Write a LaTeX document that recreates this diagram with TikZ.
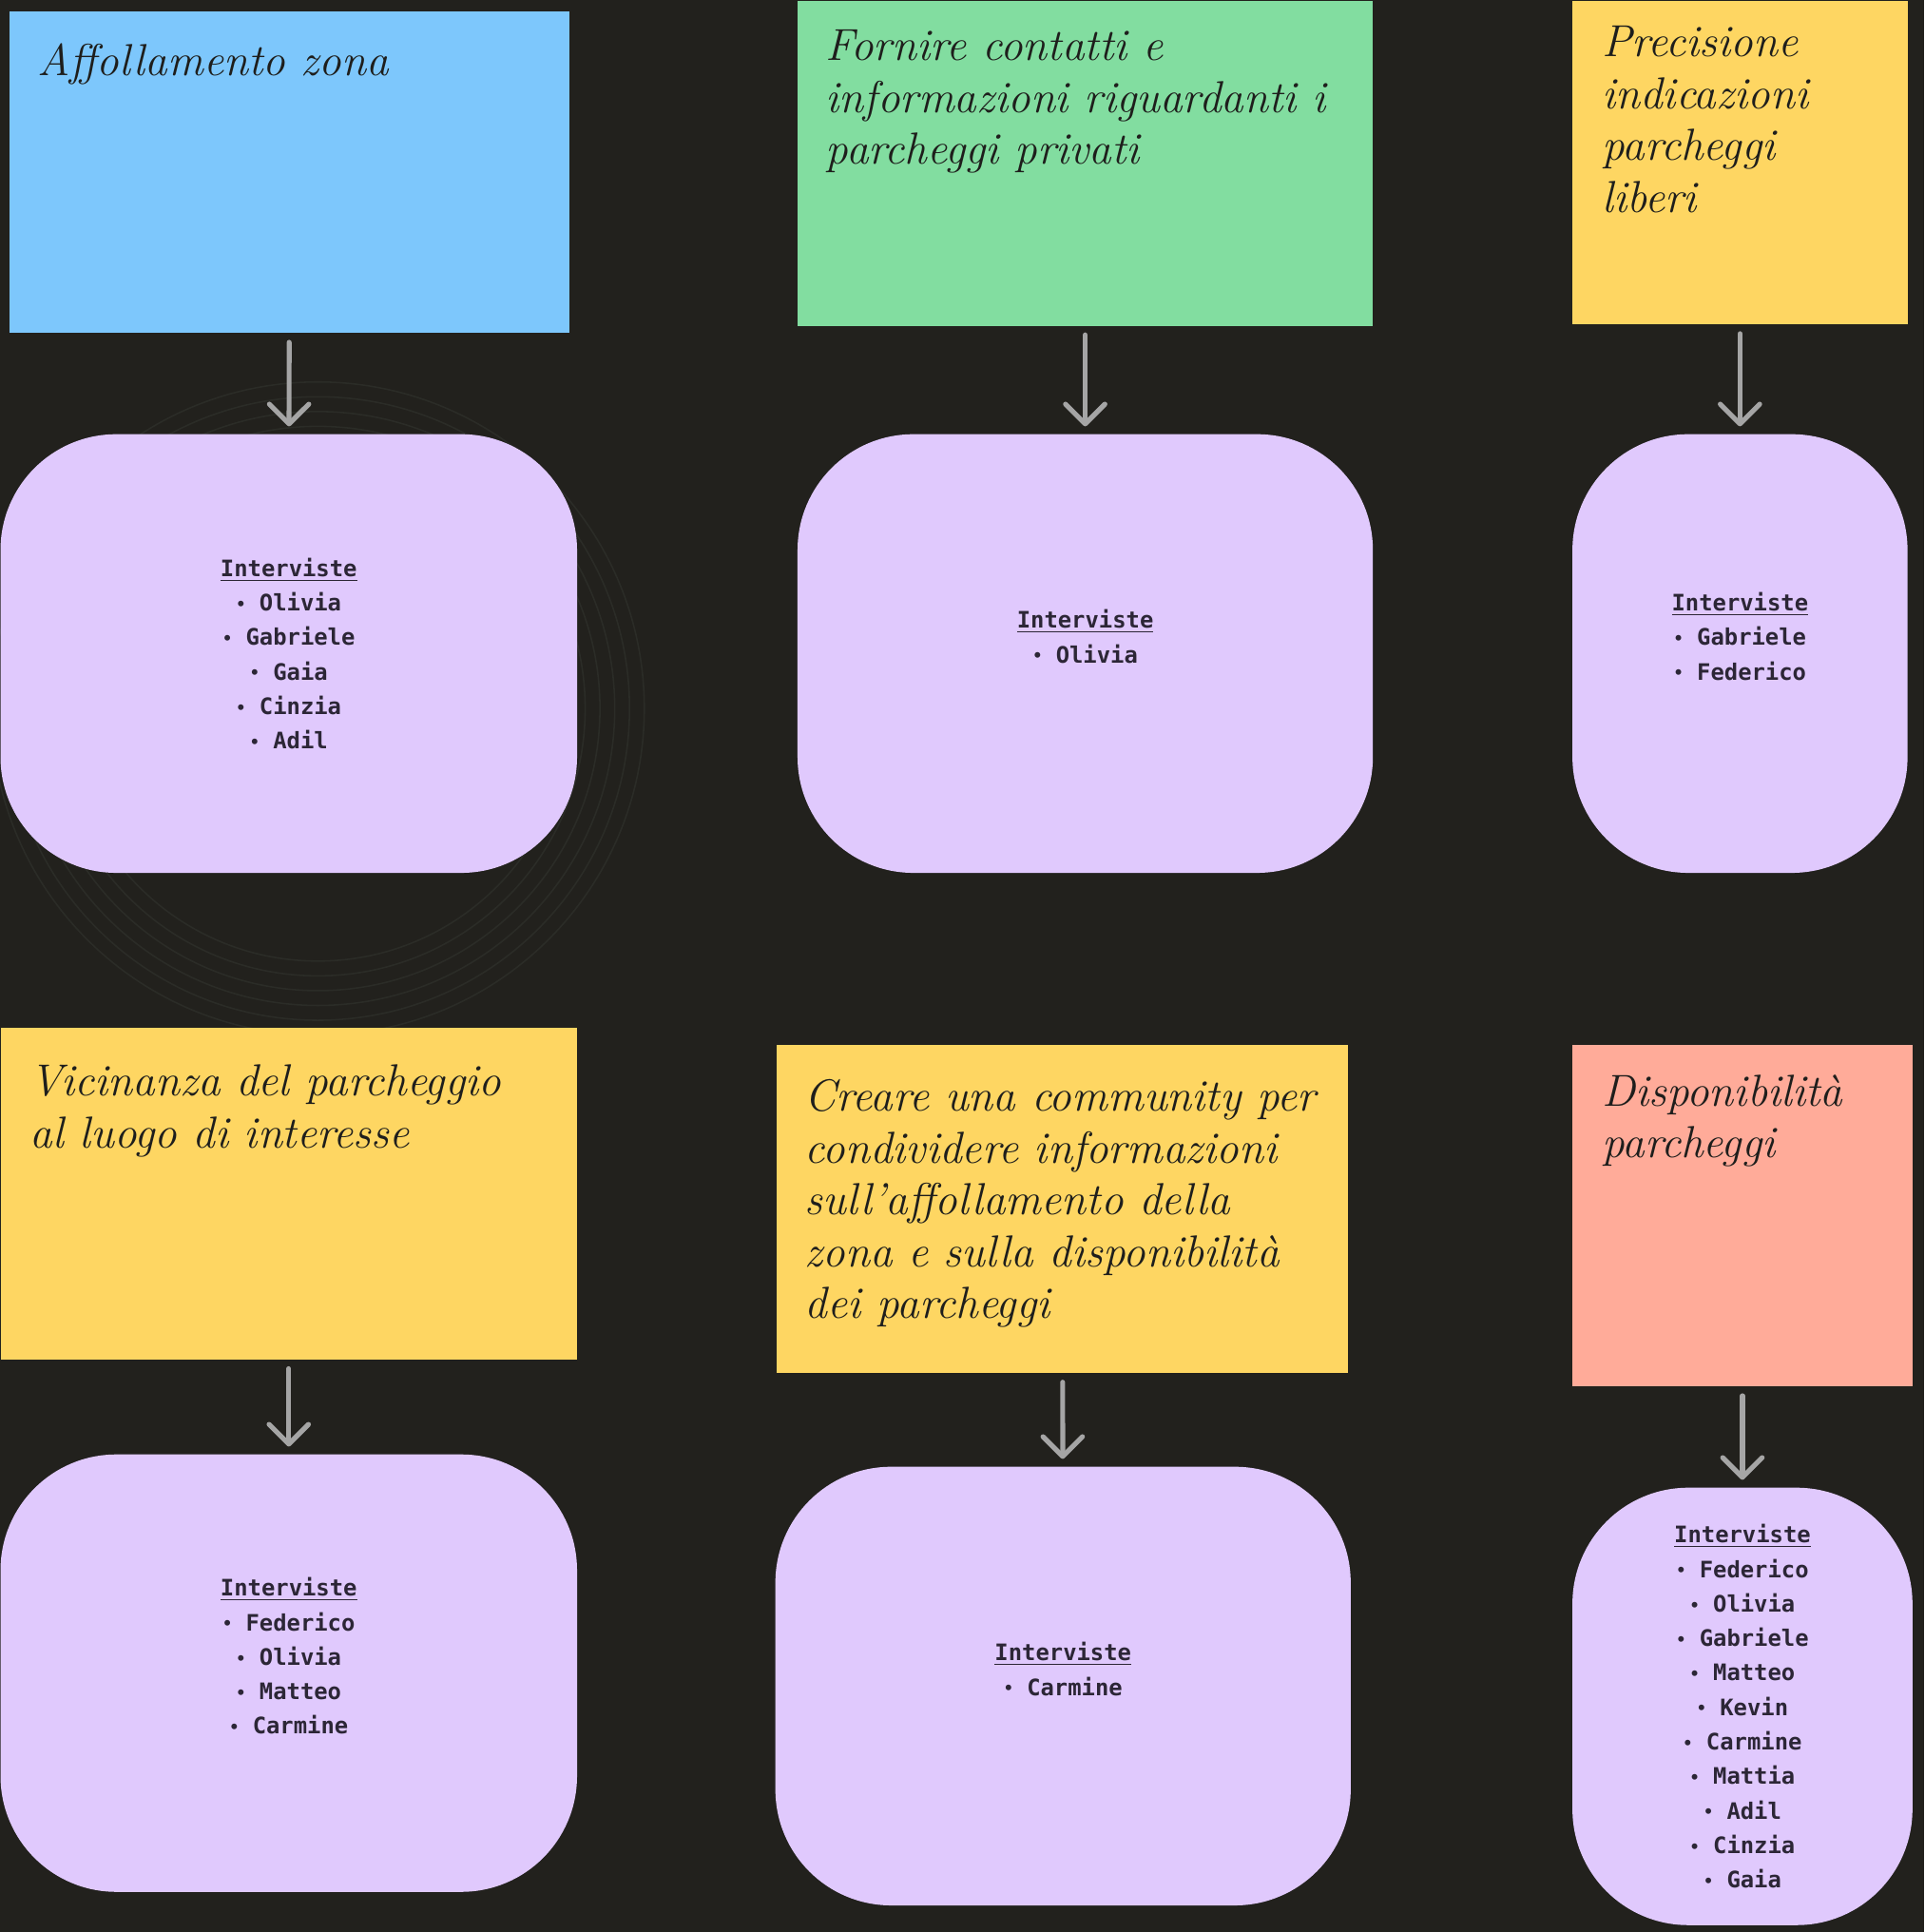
\documentclass[tikz,border=0pt]{standalone}
\usepackage{fontspec}
\newfontfamily\listfont{DejaVu Sans Mono}
\usepackage{tikz}
\usetikzlibrary{
  arrows.meta,
  positioning
}
\definecolor{boardbg}{RGB}{34,33,29}
\definecolor{boardline}{RGB}{43,44,39}
\definecolor{noteblue}{RGB}{125,199,252}
\definecolor{notegreen}{RGB}{130,221,160}
\definecolor{noteyellow}{RGB}{254,214,98}
\definecolor{notesalmon}{RGB}{255,171,153}
\definecolor{lilac}{RGB}{224,201,253}
\definecolor{arrowgray}{RGB}{165,165,165}
\definecolor{ink}{RGB}{30,30,28}
\definecolor{listink}{RGB}{44,38,54}
\newcommand{\intv}{\underline{Interviste}}
\newcommand{\bul}{\raisebox{0.5pt}{\fontsize{6.5}{6.5}\selectfont•}}

\begin{document}
\begin{tikzpicture}[x=0.5pt, y=-0.5pt,
  note/.style={rectangle, anchor=north west, inner sep=0pt},
  notetext/.style={anchor=north west, inner sep=0pt, align=left,
                   text=ink, font=\fontsize{18.2}{21}\selectfont\itshape},
  intbox/.style={rectangle, rounded corners=47pt, fill=lilac, anchor=north west,
                 inner sep=0pt, align=center, text=listink,
                 font=\fontsize{9.2}{14}\selectfont\listfont\bfseries},
  arr/.style={-{Straight Barb[length=8pt, width=16pt, round]}, line width=2pt,
              arrowgray, line cap=round, shorten <=3.5pt, shorten >=3pt}
]
  % board
  \fill[boardbg] (0,0) rectangle (1562,1568);
  \useasboundingbox (0,0) rectangle (1562,1568);
  \begin{scope}
    \clip (0,0) rectangle (1562,1568);
    \foreach \r in {205,217,...,265}
      \draw[boardline, line width=0.6pt] (258,575) circle (\r);
  \end{scope}

  % top row
  \node[note, fill=noteblue, minimum width=227.5pt, minimum height=130.5pt] (affoll) at (7,9) {};
  \node[notetext, below right=13pt and 11.5pt of affoll.north west] (affolltxt) {Affollamento zona};
  \node[note, fill=notegreen, minimum width=233.5pt, minimum height=132pt] (contatti) at (647,0) {};
  \node[notetext, below right=12pt and 11.5pt of contatti.north west] (contattitxt)
    {Fornire contatti e\\informazioni riguardanti i\\parcheggi privati};
  \node[note, fill=noteyellow, minimum width=136pt, minimum height=131.5pt] (precis) at (1276,0) {};
  \node[notetext, below right=10.5pt and 12pt of precis.north west] (precistxt)
    {Precisione\\indicazioni\\parcheggi\\liberi};

  \node[intbox, minimum width=234pt, minimum height=178pt] (affollint) at (0,352)
    {\intv\\\bul\ Olivia\\\bul\ Gabriele\\\bul\ Gaia\\\bul\ Cinzia\\\bul\ Adil};
  \node[intbox, minimum width=233.5pt, minimum height=178pt] (contattiint) at (647,352)
    {\intv\\\bul\ Olivia\\ };
  \node[intbox, minimum width=136pt, minimum height=178pt] (precisint) at (1276,352)
    {\intv\\\bul\ Gabriele\\\bul\ Federico\\ };

  \draw[arr] (affoll) -- (affollint);
  \draw[arr] (contatti) -- (contattiint);
  \draw[arr] (precis) -- (precisint);

  % bottom row
  \node[note, fill=noteyellow, minimum width=234pt, minimum height=134.5pt] (vicin) at (0,834) {};
  \node[notetext, below right=15pt and 12pt of vicin.north west] (vicintxt)
    {Vicinanza del parcheggio\\al luogo di interesse};
  \node[note, fill=noteyellow, minimum width=232pt, minimum height=133pt] (commun) at (630,848) {};
  \node[notetext, below right=14pt and 11.5pt of commun.north west] (communtxt)
    {Creare una community per\\condividere informazioni\\sull'affollamento della\\zona e sulla disponibilità\\dei parcheggi};
  \node[note, fill=notesalmon, minimum width=138pt, minimum height=138.5pt] (dispon) at (1276,848) {};
  \node[notetext, below right=12pt and 12pt of dispon.north west] (dispontxt)
    {Disponibilità\\parcheggi};

  \node[intbox, minimum width=234pt, minimum height=177.5pt] (vicinint) at (0,1180)
    {\intv\\\bul\ Federico\\\bul\ Olivia\\\bul\ Matteo\\\bul\ Carmine\\ };
  \node[intbox, minimum width=233.5pt, minimum height=178pt] (communint) at (629,1190)
    {\intv\\\bul\ Carmine\\ };
  \node[intbox, minimum width=138pt, minimum height=177.5pt] (disponint) at (1276,1207)
    {\intv\\\bul\ Federico\\\bul\ Olivia\\\bul\ Gabriele\\\bul\ Matteo\\\bul\ Kevin\\\bul\ Carmine\\\bul\ Mattia\\\bul\ Adil\\\bul\ Cinzia\\\bul\ Gaia};

  \draw[arr] (vicin) -- (vicinint);
  \draw[arr] (commun) -- (communint);
  \draw[arr] (dispon) -- (disponint);
\end{tikzpicture}
\end{document}
